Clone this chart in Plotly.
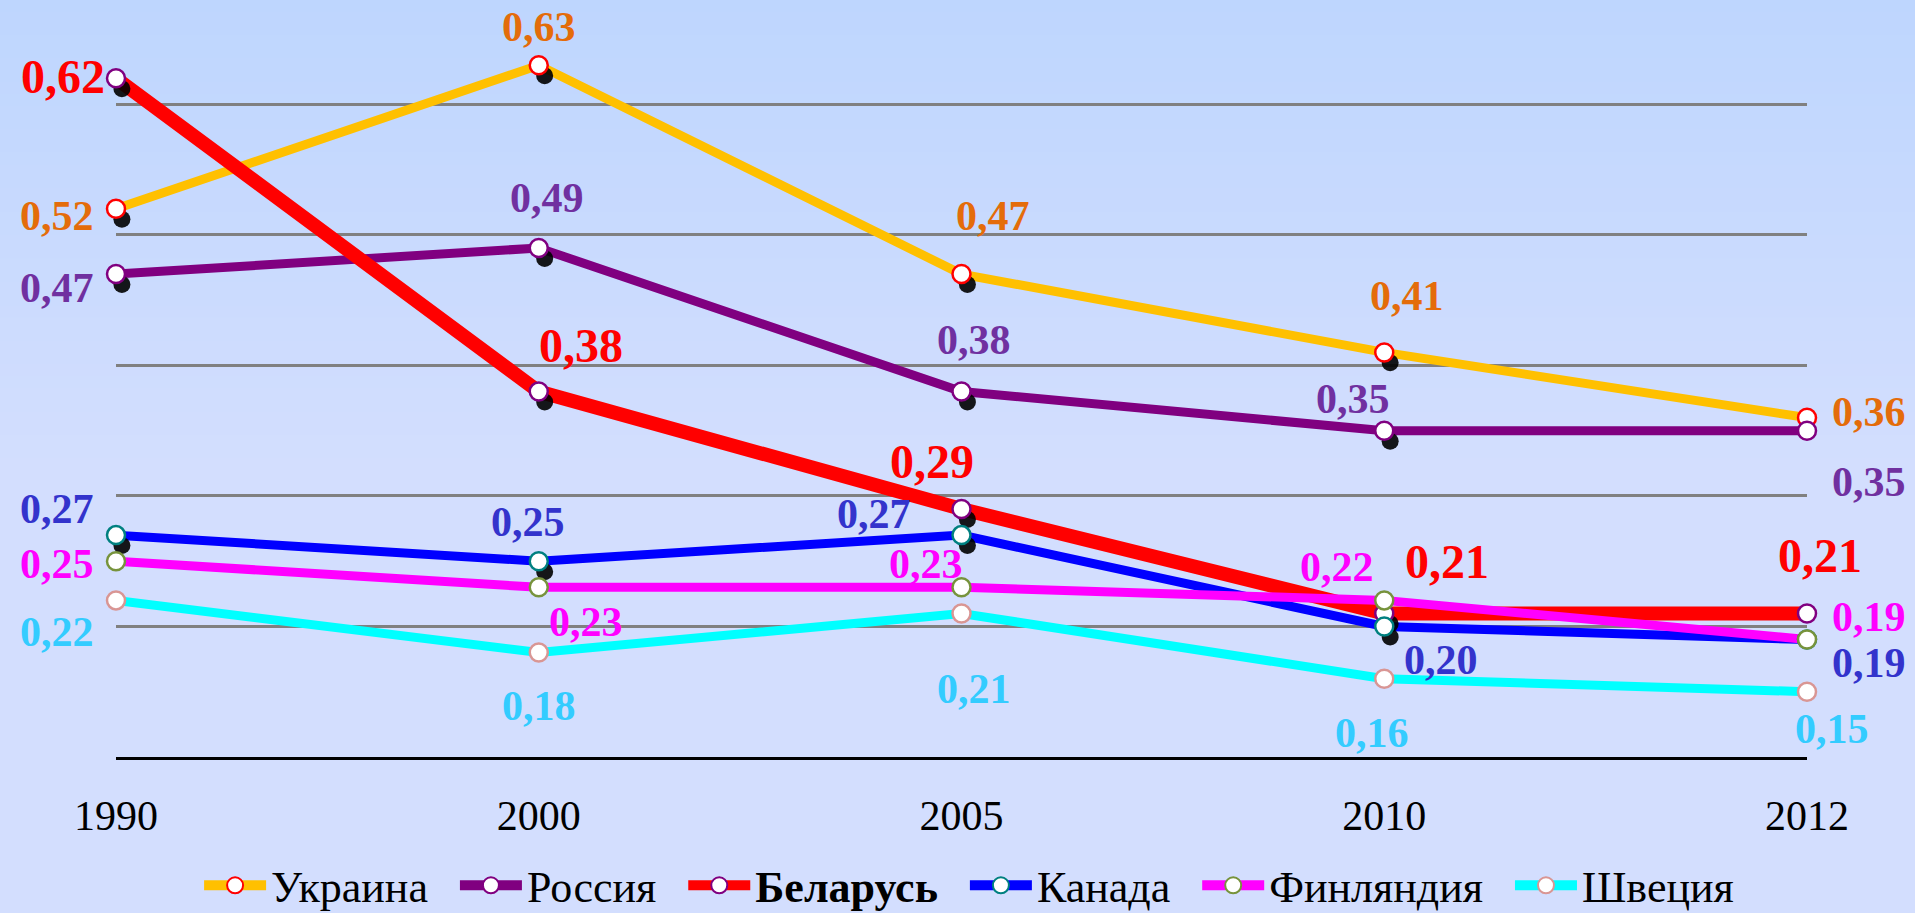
import plotly.graph_objects as go

years = ["1990", "2000", "2005", "2010", "2012"]
ukraine = [0.52, 0.63, 0.47, 0.41, 0.36]
russia = [0.47, 0.49, 0.38, 0.35, 0.35]
belarus = [0.62, 0.38, 0.29, 0.21, 0.21]
canada = [0.27, 0.25, 0.27, 0.20, 0.19]
finland = [0.25, 0.23, 0.23, 0.22, 0.19]
sweden = [0.22, 0.18, 0.21, 0.16, 0.15]

names = ["Украина", "Россия", "Беларусь", "Канада", "Финляндия", "Швеция"]
series = [ukraine, russia, belarus, canada, finland, sweden]

line_colors = ["#FFC000", "#800080", "#FF0000", "#0000FF", "#FF00FF", "#00FFFF"]
marker_borders = ["#FF0000", "#800080", "#800080", "#008080", "#77933C", "#D99694"]
label_colors = ["#E46C0A", "#7030A0", "#FF0000", "#3333CC", "#FF00FF", "#33CCFF"]
line_widths = [9, 9, 14, 9, 9, 9]
label_sizes = [42, 42, 48, 42, 42, 42]
shadowed = [True, True, True, True, False, False]

# label offsets in pixels (dx right, dy down) per series per point
label_offsets = [
    [(-59, 7), (0, -38), (31, -58), (23, -56), (62, -6)],
    [(-59, 14), (8, -50), (12, -52), (-31, -32), (62, 51)],
    [(-53, -2), (42, -46), (-30, -48), (63, -52), (13, -58)],
    [(-59, -26), (-11, -39), (-88, -21), (57, 34), (62, 23)],
    [(-59, 3), (47, 35), (-36, -23), (-47, -33), (62, -23)],
    [(-59, 32), (0, 53), (12, 76), (-12, 54), (25, 37)],
]

xs = list(range(len(years)))
SERIF = "Liberation Serif, Times New Roman, serif"
NB = "\u00a0\u00a0"

fig = go.Figure()

# lines
for vals, col, lw in zip(series, line_colors, line_widths):
    fig.add_trace(go.Scatter(x=xs, y=vals, mode="lines",
                             line=dict(color=col, width=lw),
                             showlegend=False, hoverinfo="skip", cliponaxis=False))
# shadows
for vals, sh in zip(series, shadowed):
    if sh:
        fig.add_trace(go.Scatter(x=[x + 0.014 for x in xs], y=[v - 0.008 for v in vals],
                                 mode="markers",
                                 marker=dict(color="rgba(0,0,0,0.9)", size=17, line=dict(width=0)),
                                 showlegend=False, hoverinfo="skip", cliponaxis=False))
# markers
for name, vals, bc in zip(names, series, marker_borders):
    fig.add_trace(go.Scatter(x=xs, y=vals, mode="markers", name=name,
                             marker=dict(color="white", size=18, line=dict(color=bc, width=2.5)),
                             showlegend=False, cliponaxis=False))
# legend entries
for name, col, bc in zip(names, line_colors, marker_borders):
    label = ("<b>" + name + "</b>" if name == "Беларусь" else name) + NB
    fig.add_trace(go.Scatter(x=[None], y=[None], mode="lines+markers", name=label,
                             line=dict(color=col, width=12),
                             marker=dict(color="white", size=16, line=dict(color=bc, width=2))))

annotations = []
for vals, offs, lc, ls in zip(series, label_offsets, label_colors, label_sizes):
    for x, v, (dx, dy) in zip(xs, vals, offs):
        annotations.append(dict(x=x, y=v, xref="x", yref="y",
                                text="<b>" + f"{v:.2f}".replace(".", ",") + "</b>",
                                showarrow=False, xshift=dx, yshift=-dy,
                                font=dict(family=SERIF, size=ls, color=lc)))

# background gradient stripes (paper coordinates)
shapes = []
top_c = (190, 214, 254)
bot_c = (211, 222, 254)
W, H = 1915, 913
ml, mr, mt, mb = 116, 108, 0, 156
pw, ph = W - ml - mr, H - mt - mb
n = 40
grad_h = 470
for i in range(n):
    t = i / (n - 1)
    c = tuple(round(top_c[k] + (bot_c[k] - top_c[k]) * t) for k in range(3))
    y0px = grad_h * i / n
    y1px = grad_h * (i + 1) / n + 1
    shapes.append(dict(type="rect", xref="paper", yref="paper", layer="below",
                       x0=-ml / pw, x1=1 + mr / pw,
                       y0=1 - (y1px - mt) / ph, y1=1 - (y0px - mt) / ph,
                       fillcolor="rgb(%d,%d,%d)" % c, line=dict(width=0)))

fig.update_layout(
    width=W, height=H,
    margin=dict(l=ml, r=mr, t=mt, b=mb, autoexpand=False),
    paper_bgcolor="rgb(211,222,254)",
    plot_bgcolor="rgba(0,0,0,0)",
    shapes=shapes,
    annotations=annotations,
    showlegend=True,
    legend=dict(orientation="h", x=0.511, xanchor="center", y=-0.17, yanchor="middle",
                font=dict(family=SERIF, size=44, color="black"),
                bgcolor="rgba(0,0,0,0)", itemwidth=62, traceorder="normal"),
    xaxis=dict(range=[0, 4], tickvals=xs, ticktext=years, showgrid=False, zeroline=False,
               showline=True, linecolor="black", linewidth=3, ticks="",
               ticklabelstandoff=20,
               tickfont=dict(family=SERIF, size=42, color="black")),
    yaxis=dict(range=[0.1, 0.68], tick0=0.1, dtick=0.1, showgrid=True, gridcolor="#808080",
               gridwidth=3, zeroline=False, showticklabels=False, showline=False),
)

fig.write_html("out.html", config={"displayModeBar": False},
               post_script="document.body.style.margin='0';document.body.style.overflow='hidden';")
